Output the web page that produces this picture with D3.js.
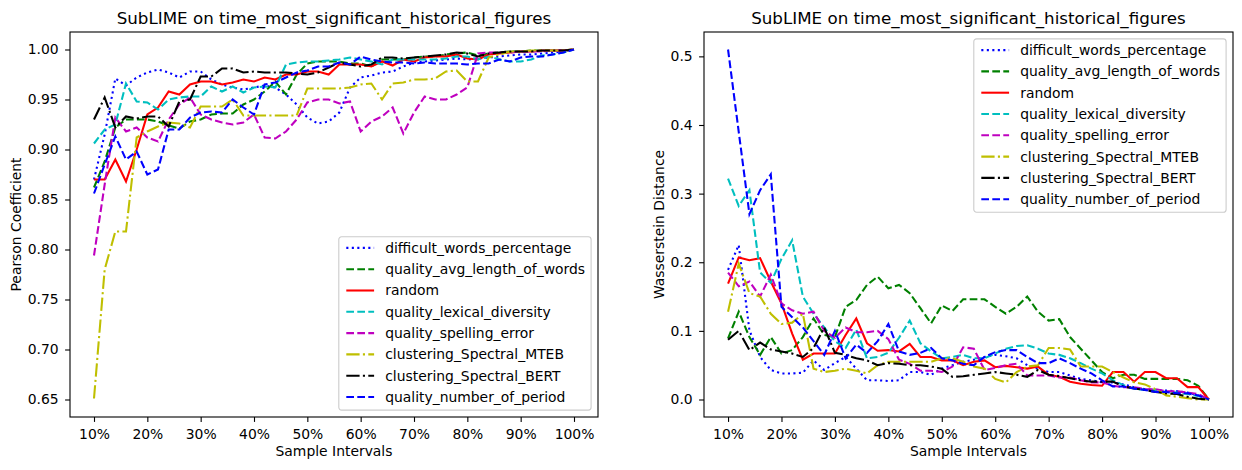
<!DOCTYPE html>
<html>
<head>
<meta charset="utf-8">
<script src="https://cdn.jsdelivr.net/npm/d3@7"></script>
<style>
  body { margin: 0; background: #fff; }
  svg { display: block; font-family: "DejaVu Sans", sans-serif; }
</style>
</head>
<body>
<svg id="chart" width="1242" height="470"></svg>
<script>
// sample intervals (percent of data)
var intervals = [10, 12, 14, 16, 18, 20, 22, 24, 26, 28, 30, 32, 34, 36, 38, 40, 42, 44, 46, 48, 50, 52, 54, 56, 58, 60, 62, 64, 66, 68, 70, 72, 74, 76, 78, 80, 82, 84, 86, 88, 90, 92, 94, 96, 98, 100];
var xTicks = [10, 20, 30, 40, 50, 60, 70, 80, 90, 100];
var xTickLabels = ["10%", "20%", "30%", "40%", "50%", "60%", "70%", "80%", "90%", "100%"];
var pearsonTicks = [0.65, 0.70, 0.75, 0.80, 0.85, 0.90, 0.95, 1.00];
var wassTicks = [0.0, 0.1, 0.2, 0.3, 0.4, 0.5];

var seriesNames = ["difficult_words_percentage", "quality_avg_length_of_words", "random", "quality_lexical_diversity", "quality_spelling_error", "clustering_Spectral_MTEB", "clustering_Spectral_BERT", "quality_number_of_period"];

// Pearson coefficient, one list per method
var pearsonDifficultWords = [0.870, 0.915, 0.971, 0.964, 0.972, 0.977, 0.980, 0.977, 0.972, 0.978, 0.978, 0.970, 0.965, 0.962, 0.960, 0.962, 0.964, 0.962, 0.955, 0.945, 0.932, 0.926, 0.928, 0.937, 0.962, 0.972, 0.974, 0.977, 0.978, 0.983, 0.987, 0.988, 0.989, 0.990, 0.991, 0.990, 0.991, 0.992, 0.993, 0.994, 0.995, 0.995, 0.996, 0.997, 0.998, 1.000];
var pearsonAvgLength = [0.862, 0.888, 0.922, 0.930, 0.930, 0.930, 0.928, 0.924, 0.921, 0.928, 0.930, 0.935, 0.936, 0.936, 0.945, 0.950, 0.958, 0.968, 0.955, 0.975, 0.986, 0.988, 0.988, 0.988, 0.986, 0.986, 0.983, 0.990, 0.990, 0.990, 0.992, 0.993, 0.993, 0.995, 0.996, 0.997, 0.994, 0.996, 0.997, 0.998, 0.998, 0.999, 0.999, 0.999, 0.999, 1.000];
var pearsonRandom = [0.870, 0.870, 0.890, 0.868, 0.900, 0.935, 0.942, 0.958, 0.955, 0.965, 0.968, 0.968, 0.965, 0.967, 0.970, 0.968, 0.972, 0.970, 0.975, 0.975, 0.978, 0.978, 0.975, 0.985, 0.985, 0.985, 0.983, 0.988, 0.984, 0.990, 0.988, 0.992, 0.993, 0.993, 0.995, 0.991, 0.990, 0.995, 0.996, 0.997, 0.998, 0.998, 0.999, 0.999, 0.999, 1.000];
var pearsonLexical = [0.906, 0.920, 0.925, 0.966, 0.948, 0.947, 0.940, 0.950, 0.952, 0.953, 0.953, 0.963, 0.958, 0.963, 0.957, 0.962, 0.963, 0.962, 0.985, 0.987, 0.988, 0.988, 0.989, 0.990, 0.992, 0.990, 0.988, 0.985, 0.990, 0.990, 0.990, 0.990, 0.990, 0.991, 0.993, 0.993, 0.990, 0.993, 0.990, 0.988, 0.988, 0.990, 0.994, 0.995, 0.997, 1.000];
var pearsonSpelling = [0.794, 0.865, 0.932, 0.918, 0.922, 0.912, 0.908, 0.930, 0.945, 0.952, 0.935, 0.930, 0.927, 0.925, 0.927, 0.935, 0.912, 0.911, 0.918, 0.930, 0.947, 0.950, 0.950, 0.946, 0.948, 0.918, 0.928, 0.933, 0.942, 0.916, 0.937, 0.953, 0.950, 0.950, 0.955, 0.962, 0.996, 0.997, 0.997, 0.997, 0.998, 0.998, 0.998, 0.999, 0.999, 1.000];
var pearsonMTEB = [0.651, 0.780, 0.818, 0.818, 0.912, 0.918, 0.923, 0.927, 0.926, 0.922, 0.943, 0.943, 0.943, 0.950, 0.934, 0.934, 0.934, 0.934, 0.934, 0.934, 0.961, 0.961, 0.961, 0.961, 0.962, 0.965, 0.966, 0.950, 0.966, 0.967, 0.970, 0.970, 0.971, 0.978, 0.979, 0.968, 0.968, 0.992, 0.995, 0.998, 0.998, 0.999, 0.999, 0.999, 0.999, 1.000];
var pearsonBERT = [0.930, 0.952, 0.922, 0.933, 0.931, 0.933, 0.933, 0.923, 0.948, 0.950, 0.973, 0.973, 0.981, 0.981, 0.977, 0.978, 0.977, 0.977, 0.977, 0.976, 0.975, 0.977, 0.982, 0.987, 0.985, 0.983, 0.985, 0.992, 0.992, 0.991, 0.992, 0.993, 0.994, 0.995, 0.997, 0.996, 0.993, 0.996, 0.997, 0.998, 0.998, 0.998, 0.999, 0.999, 0.999, 1.000];
var pearsonPeriod = [0.856, 0.885, 0.913, 0.890, 0.898, 0.875, 0.880, 0.920, 0.920, 0.932, 0.937, 0.938, 0.937, 0.950, 0.942, 0.935, 0.965, 0.967, 0.972, 0.977, 0.979, 0.983, 0.983, 0.987, 0.985, 0.993, 0.990, 0.988, 0.987, 0.987, 0.986, 0.987, 0.986, 0.986, 0.986, 0.985, 0.986, 0.986, 0.990, 0.988, 0.992, 0.993, 0.993, 0.995, 0.997, 1.000];

// Wasserstein distance, one list per method
var wassDifficultWords = [0.189, 0.225, 0.101, 0.062, 0.043, 0.038, 0.038, 0.039, 0.057, 0.043, 0.053, 0.062, 0.045, 0.028, 0.028, 0.027, 0.028, 0.040, 0.040, 0.036, 0.045, 0.050, 0.055, 0.058, 0.062, 0.065, 0.063, 0.060, 0.050, 0.045, 0.040, 0.040, 0.035, 0.030, 0.028, 0.025, 0.025, 0.022, 0.018, 0.015, 0.014, 0.013, 0.012, 0.010, 0.006, 0.000];
var wassAvgLength = [0.089, 0.128, 0.091, 0.065, 0.091, 0.067, 0.072, 0.091, 0.118, 0.094, 0.091, 0.135, 0.145, 0.167, 0.179, 0.162, 0.167, 0.155, 0.133, 0.111, 0.137, 0.129, 0.146, 0.146, 0.146, 0.135, 0.125, 0.135, 0.150, 0.128, 0.115, 0.117, 0.091, 0.074, 0.057, 0.040, 0.031, 0.036, 0.036, 0.030, 0.030, 0.030, 0.030, 0.028, 0.020, 0.000];
var wassRandom = [0.169, 0.207, 0.203, 0.206, 0.172, 0.140, 0.096, 0.058, 0.067, 0.067, 0.067, 0.094, 0.118, 0.082, 0.071, 0.072, 0.070, 0.081, 0.062, 0.062, 0.057, 0.057, 0.050, 0.055, 0.057, 0.047, 0.049, 0.047, 0.045, 0.048, 0.036, 0.033, 0.026, 0.023, 0.021, 0.020, 0.040, 0.040, 0.026, 0.040, 0.040, 0.031, 0.031, 0.018, 0.018, 0.000];
var wassLexical = [0.322, 0.282, 0.305, 0.185, 0.170, 0.205, 0.232, 0.150, 0.125, 0.105, 0.085, 0.075, 0.102, 0.060, 0.062, 0.068, 0.090, 0.115, 0.082, 0.070, 0.060, 0.062, 0.065, 0.060, 0.060, 0.067, 0.074, 0.078, 0.079, 0.074, 0.067, 0.065, 0.060, 0.053, 0.045, 0.038, 0.028, 0.021, 0.016, 0.014, 0.014, 0.011, 0.010, 0.008, 0.005, 0.000];
var wassSpelling = [0.185, 0.165, 0.172, 0.150, 0.182, 0.140, 0.130, 0.125, 0.128, 0.100, 0.090, 0.105, 0.098, 0.098, 0.100, 0.088, 0.058, 0.052, 0.042, 0.042, 0.040, 0.048, 0.076, 0.074, 0.043, 0.046, 0.050, 0.052, 0.035, 0.035, 0.035, 0.032, 0.032, 0.028, 0.025, 0.025, 0.020, 0.018, 0.018, 0.015, 0.015, 0.012, 0.012, 0.010, 0.008, 0.000];
var wassMTEB = [0.128, 0.198, 0.155, 0.150, 0.125, 0.110, 0.112, 0.125, 0.045, 0.040, 0.042, 0.045, 0.042, 0.038, 0.050, 0.055, 0.055, 0.055, 0.055, 0.055, 0.060, 0.060, 0.055, 0.048, 0.045, 0.030, 0.025, 0.040, 0.048, 0.050, 0.075, 0.075, 0.073, 0.048, 0.048, 0.048, 0.040, 0.032, 0.025, 0.022, 0.015, 0.006, 0.004, 0.002, 0.000, 0.000];
var wassBERT = [0.087, 0.100, 0.072, 0.083, 0.073, 0.070, 0.067, 0.062, 0.075, 0.105, 0.068, 0.065, 0.060, 0.057, 0.050, 0.053, 0.052, 0.050, 0.050, 0.048, 0.045, 0.033, 0.034, 0.036, 0.038, 0.040, 0.038, 0.036, 0.033, 0.043, 0.036, 0.034, 0.031, 0.028, 0.026, 0.026, 0.026, 0.019, 0.016, 0.014, 0.011, 0.009, 0.008, 0.004, 0.001, 0.000];
var wassPeriod = [0.510, 0.390, 0.270, 0.305, 0.328, 0.135, 0.120, 0.105, 0.085, 0.065, 0.100, 0.060, 0.080, 0.068, 0.085, 0.110, 0.070, 0.065, 0.068, 0.075, 0.060, 0.057, 0.052, 0.050, 0.062, 0.069, 0.072, 0.072, 0.062, 0.053, 0.053, 0.060, 0.053, 0.045, 0.038, 0.028, 0.019, 0.019, 0.016, 0.014, 0.011, 0.011, 0.009, 0.009, 0.006, 0.000];

// matplotlib-ish line styles (b: g-- r- c-- m-- y-. k-. b--)
var colors = ["#0000ff", "#008000", "#ff0000", "#00bfbf", "#bf00bf", "#bfbf00", "#000000", "#0000ff"];
var dashes = ["2.1,3.4", "7.7,3.3", null, "7.7,3.3", "7.7,3.3", "13.3,3.3,2.1,3.3", "13.3,3.3,2.1,3.3", "7.7,3.3"];

var fs = 13.9;
var svg = d3.select('#chart');

function panel(opts) {
  var x = d3.scaleLinear().domain([5.5, 104.5]).range([opts.left, opts.right]);
  var y = d3.scaleLinear().domain(opts.yDomain).range([417, 32]);
  var g = svg.append('g');

  // axes
  var xa = g.append('g')
    .attr('transform', 'translate(0,417)')
    .call(d3.axisBottom(x).tickValues(xTicks).tickFormat(function (d, i) { return xTickLabels[i]; }).tickSize(4.9).tickPadding(6.8));
  var ya = g.append('g')
    .attr('transform', 'translate(' + opts.left + ',0)')
    .call(d3.axisLeft(y).tickValues(opts.ticks).tickFormat(d3.format(opts.fmt)).tickSize(4.9).tickPadding(6.4));
  [xa, ya].forEach(function (a) {
    a.select('.domain').remove();
    a.selectAll('line').attr('stroke', '#000').attr('stroke-width', 1.1);
    a.selectAll('text').attr('font-size', fs).attr('fill', '#000').attr('font-family', 'DejaVu Sans');
  });

  // lines
  var line = d3.line()
    .x(function (d, i) { return x(intervals[i]); })
    .y(function (d) { return y(d); });
  var clip = 'clip' + opts.id;
  g.append('clipPath').attr('id', clip).append('rect')
    .attr('x', opts.left).attr('y', 32).attr('width', opts.right - opts.left).attr('height', 385);
  opts.series.forEach(function (s, i) {
    g.append('path')
      .attr('d', line(s))
      .attr('clip-path', 'url(#' + clip + ')')
      .attr('fill', 'none')
      .attr('stroke', colors[i])
      .attr('stroke-width', 2.08)
      .attr('stroke-dasharray', dashes[i]);
  });

  // frame
  g.append('rect')
    .attr('x', opts.left).attr('y', 32)
    .attr('width', opts.right - opts.left).attr('height', 385)
    .attr('fill', 'none').attr('stroke', '#000').attr('stroke-width', 1.1);

  // titles
  var cx = (opts.left + opts.right) / 2;
  g.append('text').attr('x', cx).attr('y', 24).attr('text-anchor', 'middle')
    .attr('font-size', 16.7).text('SubLIME on time_most_significant_historical_figures');
  g.append('text').attr('x', cx).attr('y', 456).attr('text-anchor', 'middle')
    .attr('font-size', fs).text('Sample Intervals');
  g.append('text')
    .attr('transform', 'translate(' + opts.ylabelX + ',224.5) rotate(-90)')
    .attr('text-anchor', 'middle').attr('font-size', fs).text(opts.ylabel);

  // legend
  var lg = g.append('g');
  var box = lg.append('rect');
  var rowH = 21.3;
  var texts = [];
  seriesNames.forEach(function (name, i) {
    var yy = 11.2 + i * rowH;
    lg.append('line')
      .attr('x1', 7.5).attr('x2', 35.3).attr('y1', yy).attr('y2', yy)
      .attr('stroke', colors[i]).attr('stroke-width', 2.08)
      .attr('stroke-dasharray', dashes[i]);
    texts.push(lg.append('text').attr('x', 46.4).attr('y', yy).attr('dy', '0.36em')
      .attr('font-size', fs).text(name));
  });
  var tw = d3.max(texts, function (t) { return t.node().getComputedTextLength(); });
  var bw = 46.4 + tw + 6;
  var bh = 8 * rowH + 3;
  box.attr('width', bw).attr('height', bh).attr('rx', 2.8)
    .attr('fill', '#fff').attr('fill-opacity', 0.8)
    .attr('stroke', '#cccccc').attr('stroke-width', 1.1);
  var lx = opts.right - 6.9 - bw;
  var ly = opts.legendTop ? 32 + 6.9 : 417 - 6.9 - bh;
  lg.attr('transform', 'translate(' + lx + ',' + ly + ')');
}

panel({
  id: 'a', left: 70, right: 598, yDomain: [0.6325, 1.0175], ticks: pearsonTicks, fmt: '.2f',
  ylabel: 'Pearson Coefficient', ylabelX: 21, legendTop: false,
  series: [pearsonDifficultWords, pearsonAvgLength, pearsonRandom, pearsonLexical, pearsonSpelling, pearsonMTEB, pearsonBERT, pearsonPeriod]
});
panel({
  id: 'b', left: 704, right: 1233, yDomain: [-0.0255, 0.5355], ticks: wassTicks, fmt: '.1f',
  ylabel: 'Wasserstein Distance', ylabelX: 664, legendTop: true,
  series: [wassDifficultWords, wassAvgLength, wassRandom, wassLexical, wassSpelling, wassMTEB, wassBERT, wassPeriod]
});
</script>
</body>
</html>
